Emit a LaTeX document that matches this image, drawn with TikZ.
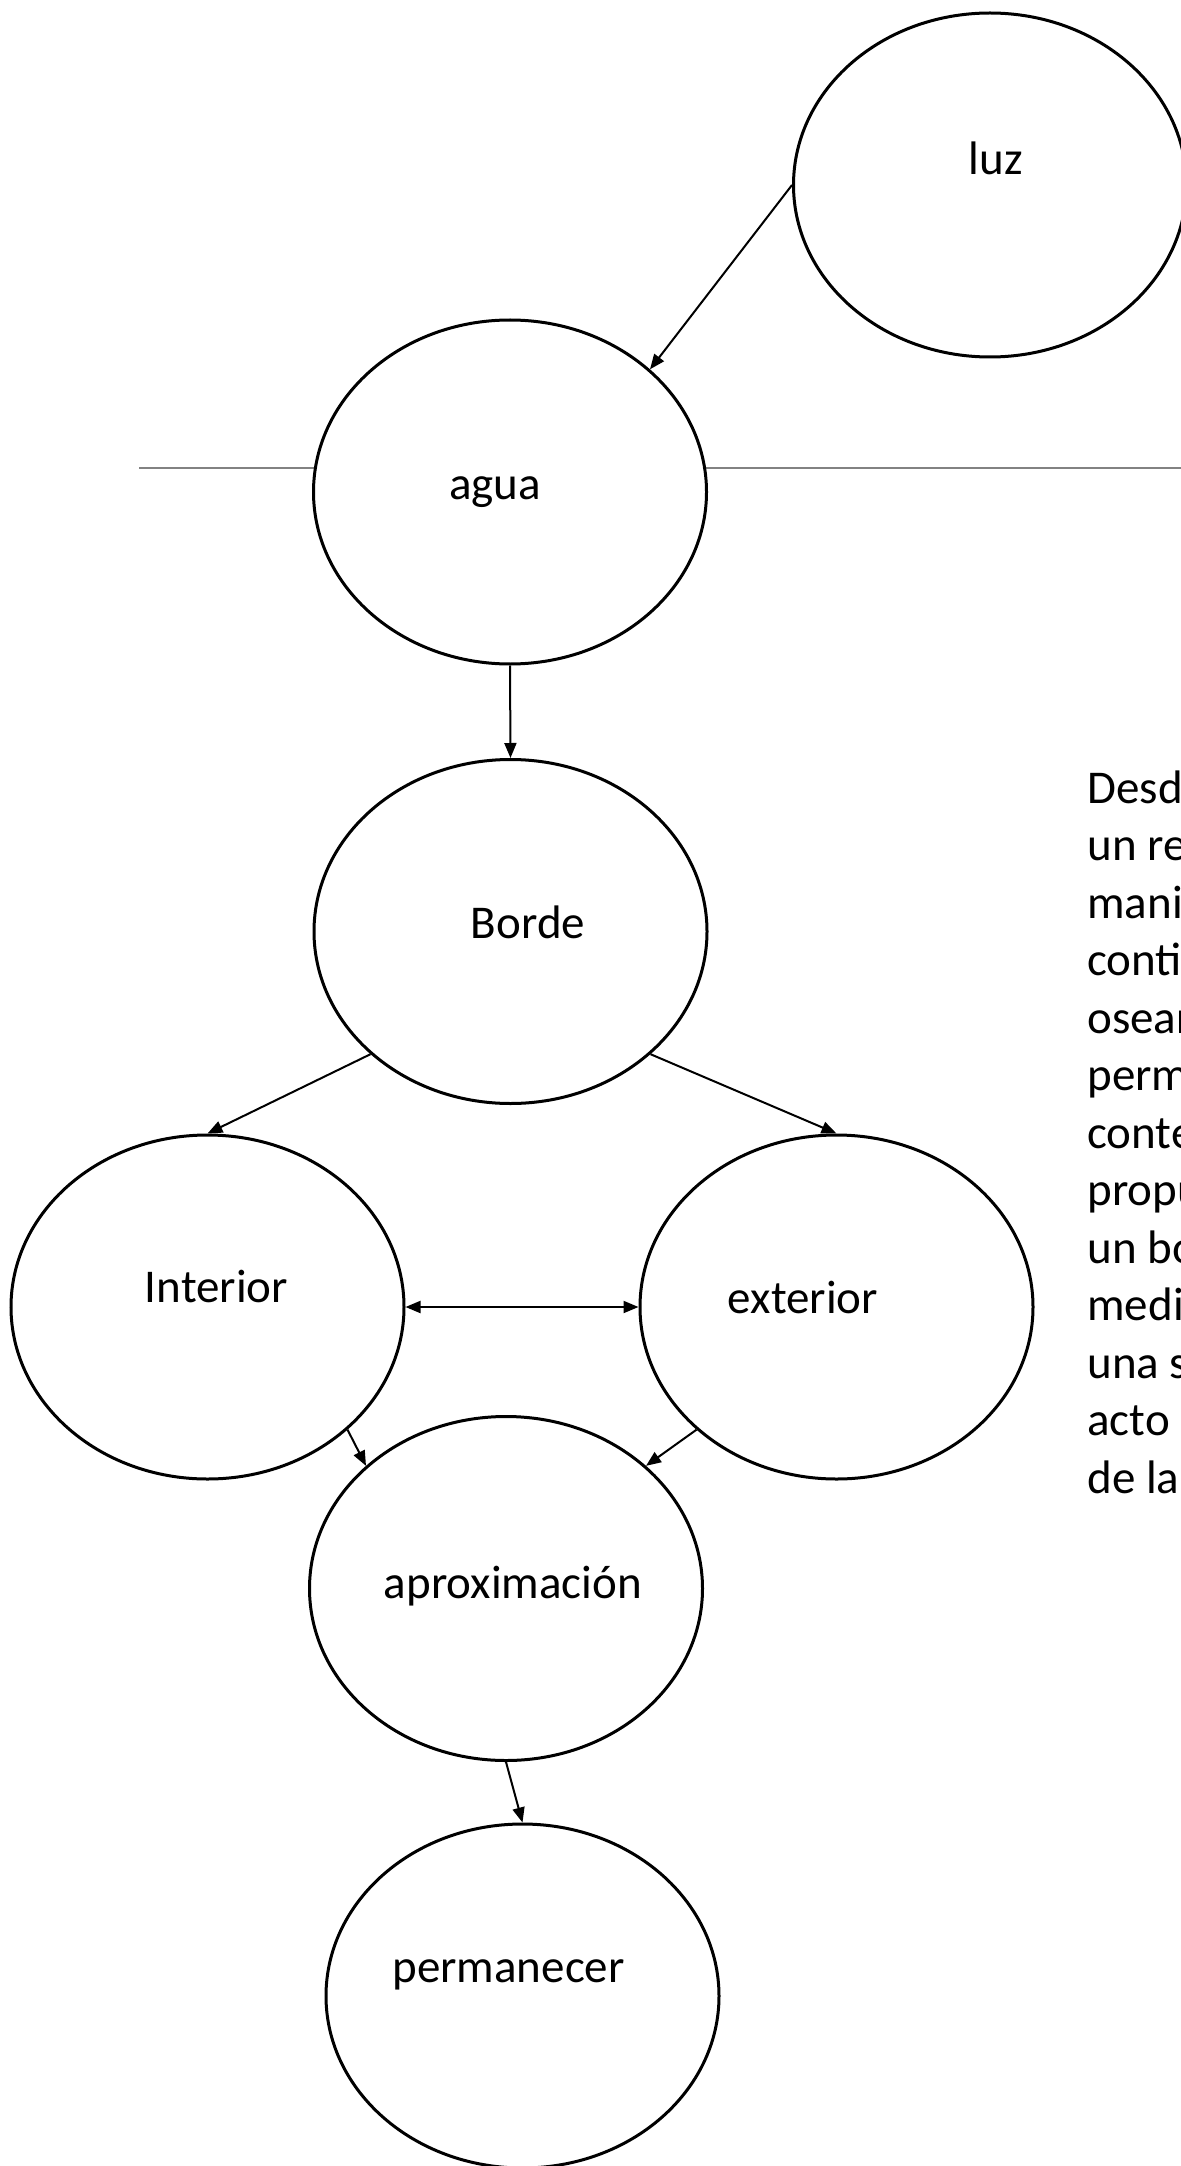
\documentclass[tikz,border=0pt]{standalone}
\usepackage{fontspec}
\setmainfont{Carlito}
\usetikzlibrary{shapes.geometric,arrows.meta}
\definecolor{rulegray}{RGB}{130,130,130}
\begin{document}
\begin{tikzpicture}[x=0.5pt,y=-0.5pt,
  bubble/.style={ellipse,draw,line width=1.5pt,fill=white,minimum width=196.5pt,minimum height=172pt,inner sep=0pt},
  lbl/.style={anchor=base,inner sep=0pt,font=\fontsize{23.5pt}{28.75pt}\selectfont},
  body/.style={anchor=base west,inner sep=0pt,font=\fontsize{23.5pt}{28.75pt}\selectfont},
  tip/.style={Triangle[length=7.5pt,width=6pt]},
  conn/.style={line width=1pt,-{Triangle[length=7.5pt,width=6pt]}},
  rule/.style={draw=rulegray,line width=0.75pt}]
\useasboundingbox (0,0) rectangle (1181,2166);
\clip (0,0) rectangle (1181,2166);
\coordinate (rl) at (139,468);
\coordinate (rr) at (1181,468);
\draw[rule] (rl) -- (rr);
\node[bubble] (luz) at (990,185) {};
\node[bubble] (agua) at (510,492) {};
\node[bubble] (borde) at (510.5,931.5) {};
\node[bubble] (int) at (207.5,1307) {};
\node[bubble] (ext) at (836.5,1307) {};
\node[bubble] (apr) at (506,1588.5) {};
\node[bubble] (per) at (522.5,1996) {};
\node[lbl] (luzt) at (996,175) {luz};
\node[lbl] (aguat) at (495,499) {agua};
\node[lbl] (bordet) at (528,938) {Borde};
\node[lbl] (intt) at (216.5,1302) {Interior};
\node[lbl] (extt) at (803,1313) {exterior};
\node[lbl] (aprt) at (513,1598) {aproximación};
\node[lbl] (pert) at (508.5,1982) {permanecer};
\draw[conn] (luz.west) -- (agua.north east);
\draw[conn] (agua.south) -- (borde.north);
\draw[conn] (borde.south west) -- (int.north);
\draw[conn] (borde.south east) -- (ext.north);
\draw[line width=1pt,{Triangle[length=7.5pt,width=6pt]}-{Triangle[length=7.5pt,width=6pt]}] (int.east) -- (ext.west);
\draw[conn] (int.south east) -- (apr.north west);
\draw[conn] (ext.south west) -- (apr.north east);
\draw[conn] (apr.south) -- (per.north);
\foreach \t [count=\i] in {Desd,un re,mani,conti,osear,perm,conte,propu,un bo,medi,una s,acto,de la}
  \node[body] (t\i) at (1087,{803+(\i-1)*57.5}) {\t};
\end{tikzpicture}
\end{document}
